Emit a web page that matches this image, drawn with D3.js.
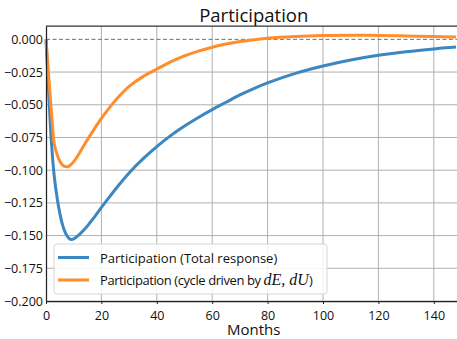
<!DOCTYPE html>
<html>
<head>
<meta charset="utf-8">
<script src="https://cdn.jsdelivr.net/npm/d3@7"></script>
<style>
  body { margin: 0; background: #fff; }
  svg { display: block; font-family: "Open Sans", "Noto Sans", sans-serif; }
</style>
</head>
<body>
<div id="chart"></div>
<script>
var months = [0, 1, 2, 3, 4, 5, 6, 7, 8, 9, 10, 12, 14, 16, 18, 20, 23, 26, 30, 35,
    40, 45, 50, 55, 60, 65, 70, 75, 80, 90, 100, 110, 120, 130, 140, 148];

var totalResponse = [0, -0.042, -0.080, -0.105, -0.121, -0.133, -0.142, -0.148, -0.1515, -0.153,
    -0.1525, -0.1493, -0.1450, -0.1398, -0.1343, -0.1285, -0.1202, -0.1121, -0.1021, -0.0914,
    -0.0820, -0.0736, -0.0663, -0.0597, -0.0537, -0.0481, -0.0425, -0.0376, -0.0333, -0.0260,
    -0.0204, -0.0158, -0.0122, -0.0095, -0.0073, -0.0058];

var cycleDriven = [0, -0.029, -0.057, -0.080, -0.088, -0.0932, -0.0962, -0.0973, -0.0972, -0.0958,
    -0.0935, -0.0872, -0.0800, -0.0732, -0.0667, -0.0604, -0.0520, -0.0445, -0.0360, -0.0285,
    -0.0228, -0.0172, -0.0127, -0.0090, -0.0060, -0.0036, -0.0017, -0.0003, 0.0009, 0.0022,
    0.0029, 0.0031, 0.0030, 0.0026, 0.0021, 0.0017];

var xTicks = [0, 20, 40, 60, 80, 100, 120, 140];
var yTicks = [0, -0.025, -0.05, -0.075, -0.1, -0.125, -0.15, -0.175, -0.2];

var seriesNames = ['Participation (Total response)', 'Participation (cycle driven by '];
var colors = ['#3a87c1', '#ff8d2b'];

var width = 457, height = 339,
    margin = { top: 26, left: 46, bottom: 38 },
    plotRight = 461.5;

var svg = d3.select('#chart').append('svg')
    .attr('width', width)
    .attr('height', height);

var x = d3.scaleLinear().domain([0, 150]).range([margin.left, plotRight]);
var y = d3.scaleLinear().domain([-0.2, 0.0102]).range([height - margin.bottom, margin.top]);

// Grid
var grid = svg.append('g').attr('stroke', '#b0b0b0').attr('stroke-width', 1);
grid.selectAll('.gx').data(xTicks.slice(1)).enter().append('line')
    .attr('x1', d => x(d)).attr('x2', d => x(d))
    .attr('y1', y.range()[1]).attr('y2', y.range()[0]);
grid.selectAll('.gy').data(yTicks.slice(1)).enter().append('line')
    .attr('x1', margin.left).attr('x2', plotRight)
    .attr('y1', d => y(d)).attr('y2', d => y(d));

// zero line
svg.append('line')
    .attr('x1', margin.left).attr('x2', plotRight)
    .attr('y1', y(0)).attr('y2', y(0))
    .attr('stroke', '#707070')
    .attr('stroke-width', 1)
    .attr('stroke-dasharray', '4,2.5');

// Lines
var line = d3.line()
    .x((d, i) => x(months[i]))
    .y(d => y(d))
    .curve(d3.curveCatmullRom.alpha(0.5));

[totalResponse, cycleDriven].forEach((s, i) => {
    svg.append('path')
        .datum(s)
        .attr('fill', 'none')
        .attr('stroke', colors[i])
        .attr('stroke-width', 3)
        .attr('stroke-linejoin', 'round')
        .attr('d', line);
});

// Axes
var fmt = d3.format('.3f');
var xAxis = svg.append('g')
    .attr('transform', 'translate(0,' + y.range()[0] + ')')
    .call(d3.axisBottom(x).tickValues(xTicks).tickSize(3).tickSizeOuter(0));
var yAxis = svg.append('g')
    .attr('transform', 'translate(' + margin.left + ',0)')
    .call(d3.axisLeft(y).tickValues(yTicks).tickFormat(fmt).tickSize(0).tickSizeOuter(0));

[xAxis, yAxis].forEach(a => {
    a.select('.domain').attr('stroke', '#222').attr('stroke-width', 1.25);
    a.selectAll('.tick line').attr('stroke', '#222');
    a.selectAll('.tick text')
        .attr('fill', '#111')
        .style('font-size', '12.5px')
        .style('font-family', '"Open Sans", sans-serif');
});
xAxis.selectAll('.tick text').attr('dy', '0').attr('y', 18.5);
yAxis.selectAll('.tick text').attr('x', -3);

// top spine
svg.append('line')
    .attr('x1', margin.left).attr('x2', plotRight)
    .attr('y1', margin.top).attr('y2', margin.top)
    .attr('stroke', '#333').attr('stroke-width', 1.25);

// Title and label
svg.append('text')
    .attr('x', (margin.left + plotRight) / 2)
    .attr('y', 22)
    .attr('text-anchor', 'middle')
    .style('font-size', '18.5px')
    .attr('fill', '#111')
    .text('Participation');

svg.append('text')
    .attr('x', (margin.left + plotRight) / 2)
    .attr('y', 335)
    .attr('text-anchor', 'middle')
    .style('font-size', '15px')
    .attr('fill', '#111')
    .text('Months');

// Legend
var legend = svg.append('g');
legend.append('rect')
    .attr('x', 54).attr('y', 244)
    .attr('width', 273).attr('height', 50)
    .attr('rx', 3)
    .attr('fill', '#fff').attr('fill-opacity', 0.85)
    .attr('stroke', '#d6d6d6');

seriesNames.forEach((name, i) => {
    var yy = 257.5 + i * 22.5;
    legend.append('line')
        .attr('x1', 58).attr('x2', 89)
        .attr('y1', yy).attr('y2', yy)
        .attr('stroke', colors[i]).attr('stroke-width', 3);
    var t = legend.append('text')
        .attr('x', 100).attr('y', yy + 5)
        .style('font-size', '13px')
        .attr('fill', '#111');
    var main = t.append('tspan').text(name);
    if (i === 1) {
        main.attr('textLength', 164).attr('lengthAdjust', 'spacing');
        var math = t.append('tspan')
            .style('font-family', '"Liberation Serif", "DejaVu Serif", serif')
            .style('font-style', 'italic')
            .style('font-size', '16px');
        math.text('dE,');
        t.append('tspan')
            .attr('dx', 4)
            .style('font-family', '"Liberation Serif", "DejaVu Serif", serif')
            .style('font-style', 'italic')
            .style('font-size', '16px')
            .text('dU');
        t.append('tspan').text(')');
    }
});
</script>
</body>
</html>
